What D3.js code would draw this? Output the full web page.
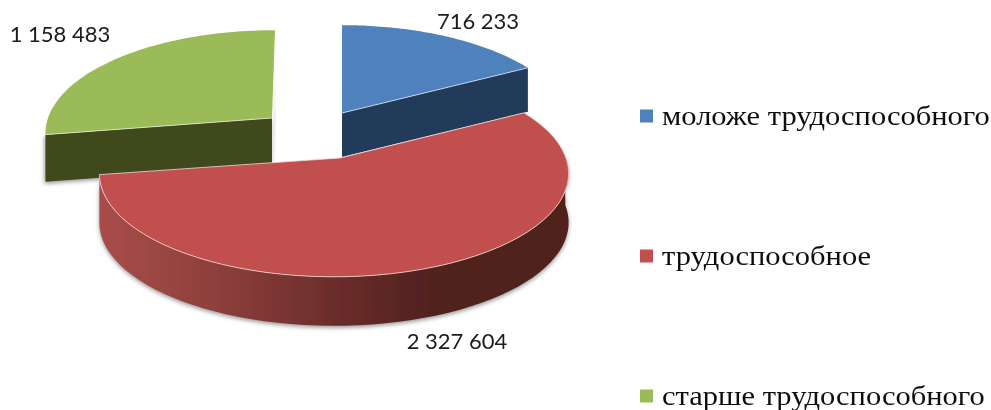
<!DOCTYPE html>
<html>
<head>
<meta charset="utf-8">
<style>
	html, body { margin: 0; padding: 0; background: #fff; }
</style>
<script src="https://cdn.jsdelivr.net/npm/d3@7"></script>
</head>
<body>
<div id="chart"></div>
<script>
var categories = ['моложе трудоспособного', 'трудоспособное', 'старше трудоспособного'];
var values = [716233, 2327604, 1158483];
var colors = ['#4f81bd', '#c0504d', '#9bbb59'];
var wallColors = ['#243a5a', null, '#40481f'];

var svgWidth = 991, svgHeight = 410;

//положение долей на рисунке (apex - вершина, cx - центр дуги)
var layout = [
	{ apexX: 342, cx: 342, cy: 113, rx: 227, depth: 44, labelX: 478, labelY: 29 },
	{ apexX: 340, cx: 334, cy: 158, rx: 232, depth: 49, labelX: 457, labelY: 349 },
	{ apexX: 272, cx: 275, cy: 118, rx: 227, depth: 47, labelX: 60, labelY: 42 }
];
var ry = 101, persp = 0.15;

var svg = d3.select('#chart').append('svg')
	.attr('width', svgWidth)
	.attr('height', svgHeight)
	.style('display', 'block');

var defs = svg.append('defs');

var grad = defs.append('linearGradient')
	.attr('id', 'redWall')
	.attr('gradientUnits', 'userSpaceOnUse')
	.attr('x1', 100).attr('x2', 568).attr('y1', 0).attr('y2', 0);
grad.selectAll('stop')
	.data([[0, '#a84d4a'], [0.25, '#8d3f3c'], [0.5, '#6b2d2b'], [0.72, '#4f201e'], [1, '#4f201e']])
	.enter().append('stop')
	.attr('offset', function(d) { return d[0]; })
	.attr('stop-color', function(d) { return d[1]; });

defs.append('filter').attr('id', 'shadow')
	.attr('x', '-10%').attr('y', '-10%').attr('width', '120%').attr('height', '120%')
	.append('feGaussianBlur').attr('stdDeviation', 2);

defs.append('filter').attr('id', 'soft')
	.append('feGaussianBlur').attr('stdDeviation', 0.35);

var pie = d3.pie().sort(null);
var slices = pie(values);

//проекция точки окружности с перспективой (дальний край меньше)
function project(i, angle) {
	var l = layout[i];
	var u = Math.cos(angle), v = Math.sin(angle);
	var s = 1 / (1 + persp * u);
	return [l.cx + v * l.rx * s, l.cy - u * ry * s];
}

function rim(i, a0, a1) {
	return d3.range(0, 61).map(function(k) {
		return project(i, a0 + (a1 - a0) * k / 60);
	});
}

var line = d3.line();

function topPath(i) {
	var pts = rim(i, slices[i].startAngle, slices[i].endAngle);
	pts.unshift([layout[i].apexX, layout[i].cy]);
	return line(pts) + 'Z';
}

//стенка: полоса вниз на глубину от ломаной
function wallPath(pts, depth) {
	var low = pts.slice().reverse().map(function(p) { return [p[0], p[1] + depth]; });
	return line(pts.concat(low)) + 'Z';
}

var chart = svg.append('g').attr('filter', 'url(#soft)');

//зелёная доля
var gi = 2, gl = layout[gi];
var gLeft = project(gi, slices[gi].startAngle);
var gWall = [gLeft, [gl.apexX, gl.cy]];
chart.append('path').attr('d', wallPath(gWall, gl.depth))
	.attr('transform', 'translate(-1,2)')
	.attr('fill', '#999').attr('filter', 'url(#shadow)');
chart.append('path').attr('d', wallPath([[gl.apexX, gl.cy], [gl.apexX + 1, gl.cy - 45]], gl.depth))
	.attr('transform', 'translate(2,1)')
	.attr('fill', '#aaa').attr('filter', 'url(#shadow)');
chart.append('path').attr('d', wallPath(gWall, gl.depth)).attr('fill', wallColors[gi]);
chart.append('path').attr('d', topPath(gi)).attr('fill', colors[gi]);
chart.append('path').attr('d', line(gWall))
	.attr('fill', 'none').attr('stroke', '#e4ecd2').attr('stroke-width', 0.8);

//синяя доля
var bi = 0, bl = layout[bi];
var bRight = project(bi, slices[bi].endAngle);
var bWall = [[bl.apexX, bl.cy], bRight];
chart.append('path').attr('d', wallPath([[bl.apexX, bl.cy], [bl.cx, bl.cy - 45]], bl.depth))
	.attr('transform', 'translate(-2,1)')
	.attr('fill', '#aaa').attr('filter', 'url(#shadow)');
chart.append('path').attr('d', wallPath(bWall, bl.depth)).attr('fill', wallColors[bi]);
chart.append('path').attr('d', topPath(bi)).attr('fill', colors[bi]);
chart.append('path').attr('d', line(bWall))
	.attr('fill', 'none').attr('stroke', '#dbe5f1').attr('stroke-width', 0.8);

//красная доля
var ri = 1, rl = layout[ri];
var rWall = rim(ri, Math.PI / 2 - 0.02, slices[ri].endAngle);
chart.append('path').attr('d', wallPath(rWall, rl.depth))
	.attr('transform', 'translate(0,2)')
	.attr('fill', '#999').attr('filter', 'url(#shadow)');
chart.append('path').attr('d', wallPath(rWall, rl.depth)).attr('fill', 'url(#redWall)');
chart.append('path').attr('d', topPath(ri))
	.attr('fill', colors[ri]).attr('stroke', '#efd9d8').attr('stroke-width', 0.8);

//подписи значений
var numFormat = d3.formatLocale({ decimal: ',', thousands: ' ', grouping: [3], currency: ['', ''] }).format(',d');

svg.selectAll('.value')
	.data(values)
	.enter().append('text')
	.attr('class', 'value')
	.attr('x', function(d, i) { return layout[i].labelX; })
	.attr('y', function(d, i) { return layout[i].labelY; })
	.attr('text-anchor', 'middle')
	.attr('filter', 'url(#soft)')
	.style('font-family', 'Lato, "Open Sans", sans-serif')
	.style('font-size', '22px')
	.style('fill', '#1a1a1a')
	.text(function(d) { return numFormat(d); });

//легенда
var legendY = d3.scalePoint().domain(categories).range([116, 396]);

var legend = svg.selectAll('.legend')
	.data(categories)
	.enter().append('g')
	.attr('class', 'legend')
	.attr('filter', 'url(#soft)')
	.attr('transform', function(d) { return 'translate(640,' + legendY(d) + ')'; });

legend.append('rect')
	.attr('x', 0).attr('y', -6.5)
	.attr('width', 13).attr('height', 13)
	.attr('fill', function(d, i) { return colors[i]; });

//текст в оригинале немного растянут по горизонтали
legend.append('text')
	.attr('transform', 'translate(22,9) scale(1.09,1)')
	.style('font-family', '"Liberation Serif", serif')
	.style('font-size', '28px')
	.style('fill', '#111')
	.text(function(d) { return d; });
</script>
</body>
</html>
